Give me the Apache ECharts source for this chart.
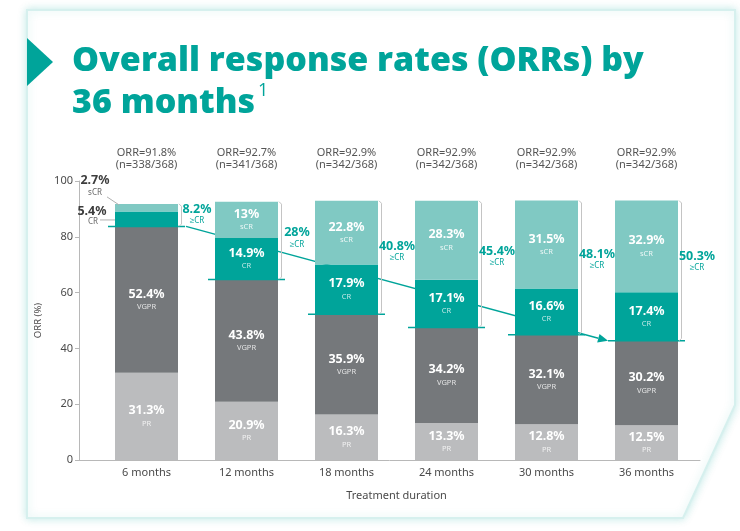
<!DOCTYPE html>
<html>
<head>
<meta charset="utf-8">
<title>ORR by 36 months</title>
<script src="https://cdn.jsdelivr.net/npm/echarts@6.0.0/dist/echarts.min.js"></script>
<style>
    html, body { margin: 0; padding: 0; background: #fff; }
    #chart { width: 740px; height: 531px; }
</style>
</head>
<body>
<div id="chart"></div>
<script>
// data
var categories = ['6 months', '12 months', '18 months', '24 months', '30 months', '36 months'];
var prData   = [31.3, 20.9, 16.3, 13.3, 12.8, 12.5];
var vgprData = [52.4, 43.8, 35.9, 34.2, 32.1, 30.2];
var crData   = [5.4, 14.9, 17.9, 17.1, 16.6, 17.4];
var scrData  = [2.7, 13, 22.8, 28.3, 31.5, 32.9];
var geCrData = [8.2, 28, 40.8, 45.4, 48.1, 50.3];
var orrData  = [91.8, 92.7, 92.9, 92.9, 92.9, 92.9];
var nResp    = [338, 341, 342, 342, 342, 342];
var nTotal   = 368;
var yMin = 0, yMax = 100, yStep = 20;

var TEAL = '#00a49a';
var TEAL_LIGHT = '#80c9c3';
var GREY_DARK = '#75787b';
var GREY_LIGHT = '#bbbcbe';
var TXT = '#4a4a4a';
var FONT = '"Noto Sans", sans-serif';
var BAR_W = 63;

var myChart = echarts.init(document.getElementById('chart'));

// label inside a bar segment: value + small name under it
function segLabel(name, subColor) {
    return {
        show: true,
        position: 'inside',
        formatter: function (p) {
            return '{v|' + p.value + '%}\n{n|' + name + '}';
        },
        rich: {
            v: { fontFamily: FONT, fontSize: 12.5, fontWeight: 'bold', color: '#fff', lineHeight: 15 },
            n: { fontFamily: FONT, fontSize: 7.5, color: subColor, lineHeight: 11 }
        }
    };
}

// the 6 month CR / sCR pieces are too thin, their labels sit outside
function smallOff(arr) {
    return arr.map(function (v, i) {
        return crData[i] < 8 ? { value: v, label: { show: false } } : v;
    });
}

function txt(text, x, y, size, color, bold) {
    return {
        type: 'text',
        style: {
            text: text, x: x, y: y, fill: color,
            fontFamily: FONT, fontSize: size, fontWeight: bold ? 'bold' : 'normal',
            align: 'center', verticalAlign: 'middle'
        }
    };
}

// baselines, brackets, >=CR labels, ORR headers
function renderOverlay(params, api) {
    var i = api.value(0);
    var half = BAR_W / 2;
    var cx = api.coord([i, 0])[0];
    var base = prData[i] + vgprData[i];
    var top = base + crData[i] + scrData[i];
    var yBot = api.coord([i, base])[1];
    var yTop = api.coord([i, top])[1];
    var y100 = api.coord([i, 100])[1];
    var bx = cx + half + 3.5;
    var ly = Math.min(yTop + 0.4 * (yBot - yTop), yBot - 17);

    var kids = [
        { type: 'line', shape: { x1: cx - half - 7, y1: yBot, x2: cx + half + 7, y2: yBot },
          style: { stroke: TEAL, lineWidth: 1.5 } },
        { type: 'polyline', shape: { points: [[bx - 2.5, yTop], [bx, yTop + 2.5], [bx, yBot - 2.5], [bx - 2.5, yBot]] },
          style: { stroke: '#c4c4c4', lineWidth: 1, fill: null } },
        txt(geCrData[i] + '%', cx + half + 19, ly, 12.5, TEAL, true),
        txt('\u2265CR', cx + half + 19, ly + 11.5, 8, TEAL, false),
        txt('ORR=' + orrData[i] + '%', cx, y100 - 28, 11, '#555', false),
        txt('(n=' + nResp[i] + '/' + nTotal + ')', cx, y100 - 16.5, 11, '#555', false)
    ];

    if (crData[i] < 8) {
        var left = cx - half;
        var crMid = api.coord([i, base + crData[i] / 2])[1];
        kids.push(
            txt(scrData[i] + '%', left - 20, yTop - 23, 12.5, '#3d3d3d', true),
            txt('sCR', left - 20, yTop - 11, 8, '#666', false),
            { type: 'line', shape: { x1: left - 8, y1: yTop - 7, x2: left + 4, y2: yTop + 1 },
              style: { stroke: '#b0b0b0', lineWidth: 1 } },
            txt(crData[i] + '%', left - 23, crMid - 8, 12.5, '#3d3d3d', true),
            txt('CR', left - 22, crMid + 3, 8, '#666', false),
            { type: 'line', shape: { x1: left - 15, y1: crMid + 1, x2: left, y2: crMid + 1 },
              style: { stroke: '#b0b0b0', lineWidth: 1 } }
        );
    }
    return { type: 'group', children: kids };
}

// one arrow running behind the bars, first baseline to last
function renderArrow(params, api) {
    var half = BAR_W / 2;
    var last = categories.length - 1;
    var p0 = api.coord([0, prData[0] + vgprData[0]]);
    var p1 = api.coord([last, prData[last] + vgprData[last]]);
    var x0 = p0[0] + half + 8, y0 = p0[1];
    var x1 = p1[0] - half - 7, y1 = p1[1];
    var dx = x1 - x0, dy = y1 - y0, len = Math.sqrt(dx * dx + dy * dy);
    var ux = dx / len, uy = dy / len;
    var hl = 10, hw = 4.5;
    var bxp = x1 - ux * hl, byp = y1 - uy * hl;
    return {
        type: 'group',
        children: [
            { type: 'line', shape: { x1: x0, y1: y0, x2: bxp, y2: byp }, style: { stroke: TEAL, lineWidth: 1.3 } },
            { type: 'polygon', shape: { points: [[x1, y1], [bxp - uy * hw, byp + ux * hw], [bxp + uy * hw, byp - ux * hw]] },
              style: { fill: TEAL } }
        ]
    };
}

var option = {
    backgroundColor: '#fff',
    animation: false,
    title: {
        left: 67,
        top: 35,
        text: 'Overall response rates (ORRs) by\n36 months{s|1}',
        textStyle: {
            fontFamily: '"Open Sans", sans-serif', fontWeight: 800, fontSize: 34,
            color: TEAL, lineHeight: 42,
            rich: {
                s: { fontFamily: '"Open Sans", sans-serif', fontWeight: 400, fontSize: 18, color: TEAL, verticalAlign: 'top', padding: [0, 0, 12, 3] }
            }
        }
    },
    graphic: [
        { type: 'polygon', z: -10, silent: true,
          shape: { points: [[27, 10], [735, 10], [735, 405], [683, 518], [27, 518]] },
          style: { fill: '#fff', stroke: '#d6f0ee', lineWidth: 2, shadowBlur: 8, shadowColor: 'rgba(0,164,154,0.22)' } },
        { type: 'polygon', z: -9, silent: true,
          shape: { points: [[27, 38], [53, 62], [27, 86]] },
          style: { fill: TEAL } }
    ],
    grid: [
        { left: 96.5, right: 43.5, top: 181, bottom: 71 },
        { left: 79, right: 40, top: 181, bottom: 71 }
    ],
    xAxis: [{
        type: 'category',
        gridIndex: 0,
        data: categories,
        axisLine: { show: false },
        axisTick: { show: false },
        axisLabel: { fontFamily: FONT, fontSize: 11, color: TXT, margin: 7 },
        name: 'Treatment duration',
        nameLocation: 'middle',
        nameGap: 30,
        nameTextStyle: { fontFamily: FONT, fontSize: 11, color: TXT }
    }, {
        type: 'value',
        gridIndex: 1,
        axisLine: { show: true, lineStyle: { color: '#b8b8b8' } },
        axisTick: { show: false },
        axisLabel: { show: false },
        splitLine: { show: false }
    }],
    yAxis: [{
        type: 'value',
        gridIndex: 0,
        min: yMin, max: yMax,
        show: false
    }, {
        type: 'value',
        gridIndex: 1,
        min: yMin, max: yMax, interval: yStep,
        axisLine: { show: true, lineStyle: { color: '#b8b8b8' } },
        axisTick: { show: true, length: 4, lineStyle: { color: '#b8b8b8' } },
        axisLabel: { fontFamily: FONT, fontSize: 11, color: TXT, margin: 6 },
        splitLine: { show: false },
        name: 'ORR (%)',
        nameLocation: 'middle',
        nameGap: 25,
        nameTextStyle: { fontFamily: FONT, fontSize: 9.5, color: TXT }
    }],
    series: [{
        name: 'Arrow', type: 'custom', z: 1, xAxisIndex: 0, yAxisIndex: 0,
        data: [[0, 0]], renderItem: renderArrow, silent: true
    }, {
        name: 'PR', type: 'bar', stack: 'orr', barWidth: BAR_W, z: 2,
        itemStyle: { color: GREY_LIGHT },
        label: segLabel('PR', 'rgba(255,255,255,0.8)'),
        data: prData
    }, {
        name: 'VGPR', type: 'bar', stack: 'orr', barWidth: BAR_W, z: 2,
        itemStyle: { color: GREY_DARK },
        label: segLabel('VGPR', 'rgba(255,255,255,0.8)'),
        data: vgprData
    }, {
        name: 'CR', type: 'bar', stack: 'orr', barWidth: BAR_W, z: 2,
        itemStyle: { color: TEAL },
        label: segLabel('CR', 'rgba(255,255,255,0.75)'),
        data: smallOff(crData)
    }, {
        name: 'sCR', type: 'bar', stack: 'orr', barWidth: BAR_W, z: 2,
        itemStyle: { color: TEAL_LIGHT },
        label: segLabel('sCR', 'rgba(255,255,255,0.85)'),
        data: smallOff(scrData)
    }, {
        name: 'Overlay', type: 'custom', z: 5, xAxisIndex: 0, yAxisIndex: 0,
        data: categories.map(function (c, i) { return [i, orrData[i]]; }),
        renderItem: renderOverlay, silent: true
    }]
};

myChart.setOption(option);
</script>
</body>
</html>
